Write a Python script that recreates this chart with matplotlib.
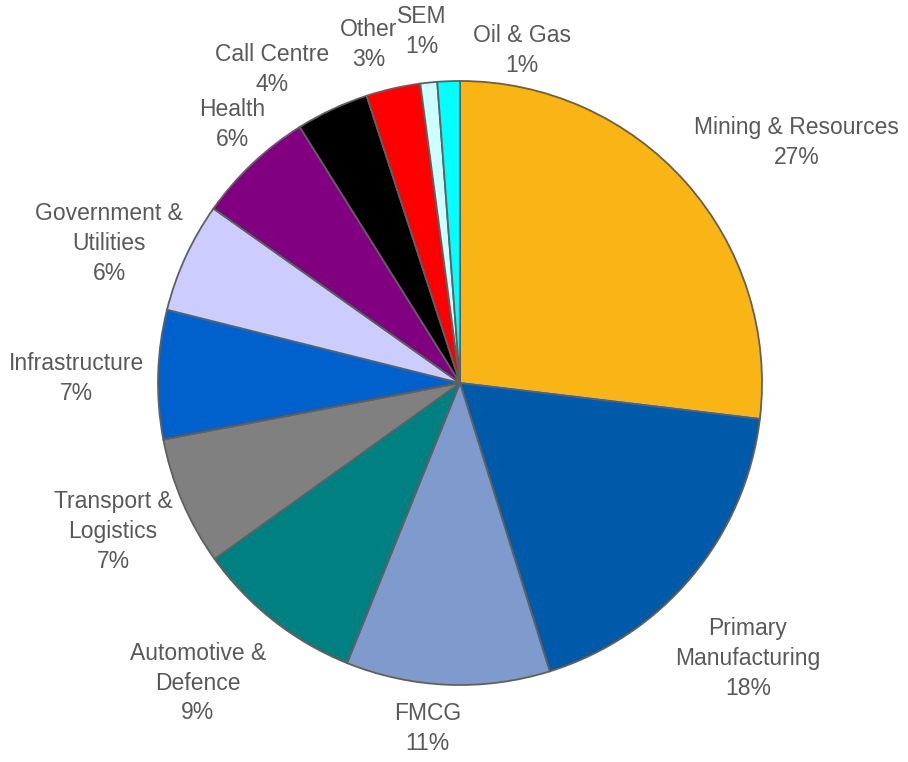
import numpy as np
import matplotlib.pyplot as plt

labels = ["Mining & Resources", "Primary\nManufacturing", "FMCG", "Automotive &\nDefence",
          "Transport &\nLogistics", "Infrastructure", "Government &\nUtilities", "Health",
          "Call Centre", "Other", "SEM", "Oil & Gas"]
values = [26.9, 18.3, 10.9, 9.0, 6.9, 6.9, 5.9, 6.3, 3.9, 2.9, 0.9, 1.2]
shown_pct = [27, 18, 11, 9, 7, 7, 6, 6, 4, 3, 1, 1]
colors = ["#F9B515", "#005AAA", "#7F9ACC", "#008080", "#808080", "#0060CC",
          "#CCCCFF", "#800080", "#000000", "#FF0000", "#CCFFFF", "#00FFFF"]

# label placement: distance (in radii) and angle nudge (deg, ccw) from wedge middle
label_dist = [1.37, 1.32, 1.15, 1.32, 1.25, 1.27, 1.25, 1.14, 1.21, 1.16, 1.17, 1.12]
label_nudge = [-6, -4, -3, -3, 0, 1, 3, -2, 6, 2.4, 0.2, -12.7]

plt.rcParams['font.family'] = ['Liberation Sans', 'DejaVu Sans']

fig = plt.figure(figsize=(9.08, 7.62), dpi=100)
ax = fig.add_axes([0, 0, 1, 1])
r_px = 302
cx, cy = 460, 762 - 383

wedges, _ = ax.pie(values, colors=colors, startangle=90, counterclock=False,
                   wedgeprops=dict(edgecolor='#606060', linewidth=1.3))
ax.set_xlim(-cx / r_px, (908 - cx) / r_px)
ax.set_ylim(-cy / r_px, (762 - cy) / r_px)
ax.axis('off')

for w, lab, p, d, nd in zip(wedges, labels, shown_pct, label_dist, label_nudge):
    mid = np.deg2rad((w.theta1 + w.theta2) / 2 + nd)
    ax.text(d * np.cos(mid), d * np.sin(mid), f"{lab}\n{p}%", ha='center', va='center',
            fontsize=16.5, color='#595959', linespacing=1.38)

fig.savefig("out.png", dpi=100)
